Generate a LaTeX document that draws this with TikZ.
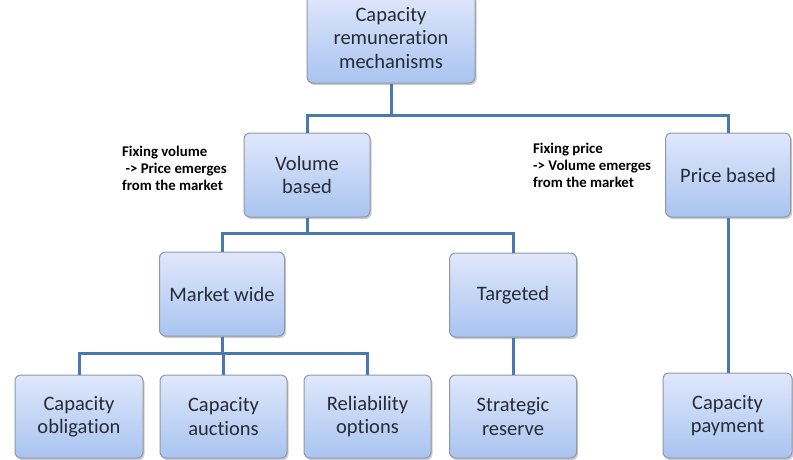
\documentclass[tikz,border=0pt]{standalone}
\usepackage{fontspec}
\setmainfont{Carlito}[Ligatures={NoCommon}]
\usetikzlibrary{shadows}
\definecolor{boxtop}{HTML}{E0E7FB}
\definecolor{boxbot}{HTML}{A9C4F0}
\definecolor{boxline}{HTML}{9098A8}
\definecolor{boxtext}{HTML}{262B36}
\definecolor{connc}{HTML}{4A78B0}
\tikzset{
  box/.style={draw=boxline, line width=1pt, rounded corners=6pt,
    top color=boxtop, bottom color=boxbot, align=center,
    text=boxtext, font=\fontsize{20.5}{23.5}\selectfont, inner sep=2pt,
    drop shadow={shadow xshift=1.5pt, shadow yshift=-2pt, fill=black!40, opacity=0.5}},
  conn/.style={draw=connc, line width=3pt},
  lbl/.style={align=left, anchor=north west, font=\fontsize{14.8}{17}\selectfont\bfseries, inner sep=0pt}
}
\begin{document}
\begin{tikzpicture}[x=1pt,y=-1pt]
\useasboundingbox (0,0) rectangle (793,459);
\fill[white] (0,0) rectangle (793,459);
\coordinate (j1) at (391,115);
\coordinate (j2) at (307,233);
\coordinate (j3) at (222,353);
\node[box, minimum width=168pt, minimum height=90pt] (top) at (391,38) {Capacity\\remuneration\\mechanisms};
\node[box, minimum width=126pt, minimum height=84pt] (vol) at (307,175) {Volume\\based};
\node[box, minimum width=125pt, minimum height=84pt] (price) at (728,175) {Price based};
\node[box, minimum width=125pt, minimum height=84pt] (mw) at (222,294) {Market wide};
\node[box, minimum width=127pt, minimum height=84pt] (tg) at (513,295) {Targeted};
\node[box, minimum width=128pt, minimum height=83pt] (co) at (79,416.5) {Capacity\\obligation};
\node[box, minimum width=127pt, minimum height=83pt] (ca) at (223.5,416.5) {Capacity\\auctions};
\node[box, minimum width=127pt, minimum height=83pt] (ro) at (367.5,416.5) {Reliability\\options};
\node[box, minimum width=127pt, minimum height=83pt] (sr) at (513,416.5) {Strategic\\reserve};
\node[box, minimum width=129pt, minimum height=85pt] (cp) at (727.5,415.5) {Capacity\\payment};
\draw[conn] (top.south) -- (j1);
\draw[conn] (vol.north) |- (j1) -| (price.north);
\draw[conn] (vol.south) -- (j2);
\draw[conn] (mw.north) |- (j2) -| (tg.north);
\draw[conn] (mw.south) -- (j3);
\draw[conn] (co.north) |- (j3) -| (ro.north);
\draw[conn] (ca.north) -- (ca.north |- j3);
\draw[conn] (tg.south) -- (sr.north);
\draw[conn] (price.south) -- (price.south |- cp.north);
\node[lbl] (lblv) at (122,146) {Fixing volume\\\ -> Price emerges\\from the market};
\node[lbl] (lblp) at (533,143) {Fixing price\\-> Volume emerges\\from the market};
\end{tikzpicture}
\end{document}
